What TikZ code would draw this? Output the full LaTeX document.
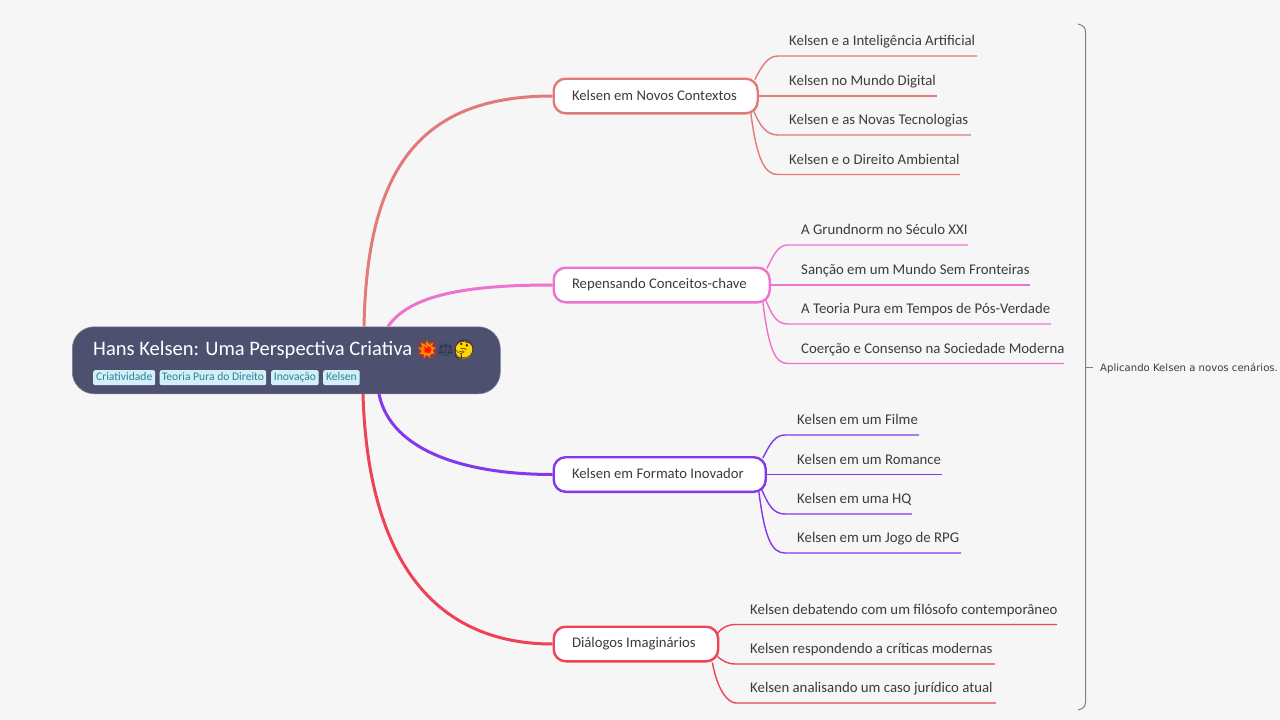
\documentclass[tikz,border=0pt]{standalone}
\usepackage{fontspec}
\usetikzlibrary{calc,shapes.geometric}
\setmainfont{Carlito}
\newfontfamily\emo{Noto Emoji}
\newfontfamily\dejavu{DejaVu Sans}
\definecolor{bgc}{HTML}{F6F6F6}
\definecolor{rootc}{HTML}{4E5070}
\definecolor{tagfill}{HTML}{D3F0F8}
\definecolor{tagtext}{HTML}{2F7F99}
\definecolor{txt}{HTML}{3C3C3C}
\definecolor{ca}{HTML}{E27A7A}
\definecolor{cb}{HTML}{EE72CF}
\definecolor{cc}{HTML}{8338EC}
\definecolor{cd}{HTML}{EF4256}
\tikzset{
  rootbox/.style={draw=rootc!75!white,line width=.6pt,fill=rootc,rounded corners=22pt,minimum width=428pt,minimum height=67pt,inner sep=0pt,anchor=north west},
  titletext/.style={inner sep=0pt,anchor=base west,text=white,font=\fontsize{20.55}{24}\selectfont},
  tagbox/.style={fill=tagfill,rounded corners=2pt,inner sep=0pt,minimum height=15pt,text height=8.5pt,text depth=2.5pt,anchor=north west,text=tagtext,font=\fontsize{11.6}{13}\selectfont},
  branchbox/.style={fill=white,line width=2.4pt,rounded corners=12pt,minimum height=34.6pt,inner xsep=19pt,inner ysep=0pt,anchor=west,text=txt,font=\fontsize{14.7}{17}\selectfont},
  leafnode/.style={inner sep=0pt,anchor=south west,text=txt,text height=14pt,text depth=10pt,font=\fontsize{14.8}{18}\selectfont},
  mainline/.style={line width=3pt},
  subline/.style={line width=1.4pt},
  summarytext/.style={inner xsep=7pt,inner ysep=0pt,anchor=west,text=txt,text height=8pt,text depth=0pt,font=\dejavu\fontsize{10.1}{13}\selectfont},
  bracketline/.style={draw=black!50,line width=1pt}
}
% name, x, y-bottom, x-end, text-indent, text
\newcommand{\leafitem}[6]{%
  \pgfmathsetmacro{\lw}{#4-#2}%
  \node[leafnode] (#1t) at (#2,#3) {\makebox[\lw pt][l]{\hspace*{#5pt}#6}};
  \coordinate (#1w) at (#2,#3);
  \coordinate (#1e) at (#4,#3);}
\newcommand{\branchlabel}[2]{\makebox[#1pt][l]{\hspace*{-0.7pt}\raisebox{2pt}{#2}}}
\begin{document}
\begin{tikzpicture}[x=1pt,y=-1pt]
\useasboundingbox (0,0) rectangle (1280,720);
\fill[bgc] (0,0) rectangle (1280,720);

% root
\node[rootbox] (root) at (72,326.5) {};
\node[titletext] (title) at (93,355) {Hans Kelsen: Uma Perspectiva Criativa};
\node[star,star points=9,star point ratio=1.7,fill=orange!85!yellow,minimum size=19pt,inner sep=0pt] (boomback) at (427,349.5) {};
\node[inner sep=0pt,text=red!85!orange,font=\emo\fontsize{20}{22}\selectfont] (boom) at (427,349.5) {💥};
\node[inner sep=0pt,text=rootc!60!black,font=\emo\fontsize{13}{20}\selectfont] (scales) at (445.5,350) {⚖};
\node[circle,fill=yellow!75!orange,minimum size=17pt,inner sep=0pt] (faceback) at (464,350) {};
\node[inner sep=0pt,text=black!70!orange,font=\emo\fontsize{18}{20}\selectfont] (face) at (464,349.5) {🤔};
\node[tagbox,minimum width=62pt] (t1) at (93,370) {Criatividade};
\node[tagbox,minimum width=106.5pt] (t2) at (159.5,370) {Teoria Pura do Direito};
\node[tagbox,minimum width=47.5pt] (t3) at (271,370) {Inovação};
\node[tagbox,minimum width=36.5pt] (t4) at (323,370) {Kelsen};

% branches
\node[branchbox,draw=ca,minimum width=204pt] (b1) at (552.5,96) {\branchlabel{166}{Kelsen em Novos Contextos}};
\node[branchbox,draw=cb,minimum width=216pt] (b2) at (552.5,285) {\branchlabel{178}{Repensando Conceitos-chave}};
\node[branchbox,draw=cc,minimum width=212pt] (b3) at (552.5,474.5) {\branchlabel{174}{Kelsen em Formato Inovador}};
\node[branchbox,draw=cd,minimum width=164.5pt] (b4) at (552.5,644) {\branchlabel{126.5}{Diálogos Imaginários}};

% main connectors
\draw[mainline,ca] ($(root.north west)+(292,0)$) .. controls +(3,-155) and +(-135,0) .. (b1.west);
\draw[mainline,cb] ($(root.north west)+(316,0)$) .. controls +(22,-32) and +(-85,0) .. (b2.west);
\draw[mainline,cc] ($(root.south west)+(307,0)$) .. controls +(12,58) and +(-85,0) .. (b3.west);
\draw[mainline,cd] ($(root.south west)+(291,0)$) .. controls +(5,170) and +(-115,0) .. (b4.west);

% leaves 1
\leafitem{l11}{778}{56}{977}{11}{Kelsen e a Inteligência Artificial}
\leafitem{l12}{778}{96}{936.5}{11}{Kelsen no Mundo Digital}
\leafitem{l13}{778}{135}{971}{11}{Kelsen e as Novas Tecnologias}
\leafitem{l14}{778}{174.5}{960}{11}{Kelsen e o Direito Ambiental}
\draw[subline,ca] ($(b1.north east)+(-4,2)$) .. controls +(7,-14) and +(-10,0) .. (l11w) -- (l11e);
\draw[subline,ca] (b1.east) -- (l12e);
\draw[subline,ca] ($(b1.south east)+(-5,-3)$) .. controls +(6,14) and +(-12,0) .. (l13w) -- (l13e);
\draw[subline,ca] ($(b1.south east)+(-8,-1)$) .. controls +(6,47) and +(-13,0) .. (l14w) -- (l14e);

% leaves 2
\leafitem{l21}{788}{245}{968}{13}{A Grundnorm no Século XXI}
\leafitem{l22}{788}{285}{1030}{13}{Sanção em um Mundo Sem Fronteiras}
\leafitem{l23}{788}{324}{1051}{13}{A Teoria Pura em Tempos de Pós-Verdade}
\leafitem{l24}{788}{363.5}{1064}{13}{Coerção e Consenso na Sociedade Moderna}
\draw[subline,cb] ($(b2.north east)+(-4,2)$) .. controls +(7,-14) and +(-10,0) .. (l21w) -- (l21e);
\draw[subline,cb] (b2.east) -- (l22e);
\draw[subline,cb] ($(b2.south east)+(-5,-3)$) .. controls +(6,14) and +(-12,0) .. (l23w) -- (l23e);
\draw[subline,cb] ($(b2.south east)+(-8,-1)$) .. controls +(6,47) and +(-13,0) .. (l24w) -- (l24e);

% leaves 3
\leafitem{l31}{785}{435}{919}{12}{Kelsen em um Filme}
\leafitem{l32}{785}{474.5}{942}{12}{Kelsen em um Romance}
\leafitem{l33}{785}{514}{912}{12}{Kelsen em uma HQ}
\leafitem{l34}{785}{553}{961}{12}{Kelsen em um Jogo de RPG}
\draw[subline,cc] ($(b3.north east)+(-4,2)$) .. controls +(7,-14) and +(-10,0) .. (l31w) -- (l31e);
\draw[subline,cc] (b3.east) -- (l32e);
\draw[subline,cc] ($(b3.south east)+(-5,-3)$) .. controls +(6,14) and +(-12,0) .. (l33w) -- (l33e);
\draw[subline,cc] ($(b3.south east)+(-8,-1)$) .. controls +(6,47) and +(-13,0) .. (l34w) -- (l34e);

% leaves 4
\leafitem{l41}{736}{624.5}{1057}{14}{Kelsen debatendo com um filósofo contemporâneo}
\leafitem{l42}{736}{664}{995}{14}{Kelsen respondendo a críticas modernas}
\leafitem{l43}{736}{703}{996}{14}{Kelsen analisando um caso jurídico atual}
\draw[subline,cd] ($(b4.north east)+(-2,8)$) .. controls +(5,-6) and +(-9,0) .. (l41w) -- (l41e);
\draw[subline,cd] ($(b4.south east)+(-2,-6)$) .. controls +(6,5) and +(-8,0) .. (l42w) -- (l42e);
\draw[subline,cd] ($(b4.south east)+(-7,0)$) .. controls +(5,28) and +(-8,0) .. (l43w) -- (l43e);

% summary
\node[summarytext] (sum) at (1093,367) {Aplicando Kelsen a novos cenários.};
\coordinate (brtop) at (1078,24);
\coordinate (brbot) at (1078,710);
\coordinate (brmid) at (1085.5,367);
\draw[bracketline] (brtop) .. controls +(5,1.5) and +(0,-5) .. (1085.5,32) -- (1085.5,702) .. controls +(0,5) and +(5,-1.5) .. (brbot);
\draw[bracketline] (brmid) -- (sum.west);
\end{tikzpicture}
\end{document}
